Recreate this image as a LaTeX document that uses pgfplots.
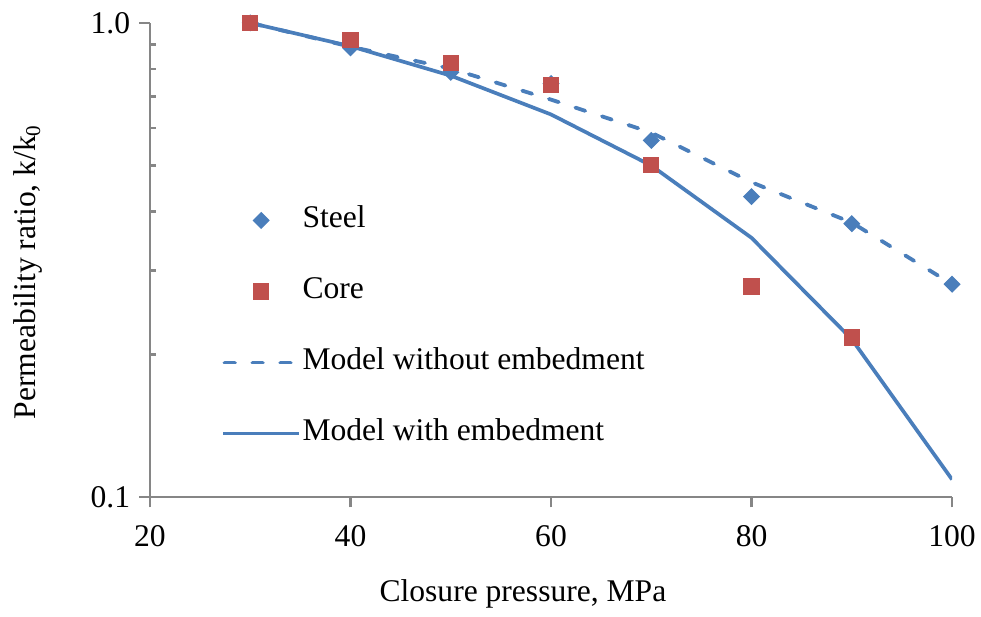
\documentclass[border=0pt]{standalone}
\usepackage{fontspec}
\setmainfont{Liberation Serif}
\usepackage{pgfplots}
\pgfplotsset{compat=1.18}
\definecolor{eblue}{RGB}{74,126,187}
\definecolor{ered}{RGB}{192,80,77}
\definecolor{agray}{RGB}{134,134,134}
\begin{document}
\begin{tikzpicture}[font=\fontsize{12}{14.4}\selectfont]
\begin{axis}[
  scale only axis,
  width=304.8pt, height=180.1pt,
  xmin=20, xmax=100,
  ymode=log, ymin=0.1, ymax=1,
  xtick={20,40,60,80,100},
  ytick={0.1,1}, yticklabels={0.1,1.0},
  minor ytick={0.2,0.3,0.4,0.5,0.6,0.7,0.8,0.9},
  /pgf/number format/assume math mode=true,
  axis x line*=bottom, axis y line*=left,
  axis line style={agray, line width=1pt},
  every tick/.append style={agray, line width=1pt},
  tick align=outside,
  major tick length=4pt,
  minor tick length=2.3pt,
  every minor y tick/.append style={xshift=2.3pt},
  xticklabel style={yshift=-3.4pt},
  xlabel={Closure pressure, MPa},
  ylabel={Permeability ratio, k/k\textsubscript{0}},
  every axis x label/.style={at={(rel axis cs:0.465,0)}, yshift=-36.9pt, anchor=center},
  every axis y label/.style={at={(rel axis cs:0,0.475)}, xshift=-46.4pt, rotate=90, anchor=center},
  legend style={at={(rel axis cs:0.088,0.619)}, anchor=north west, draw=none, fill=none,
    row sep=14.5pt, inner sep=0pt,
    nodes={inner sep=0.5pt, text height=8.5pt, text depth=3pt}},
  legend cell align=left,
  legend image code/.code={\draw[mark repeat=2,mark phase=2] plot coordinates {(0pt,0pt) (14.5pt,0pt) (29pt,0pt)};},
]
\coordinate (sw) at (rel axis cs:0,0);
\coordinate (ne) at (rel axis cs:1,1);
\addplot[only marks, mark=square*, mark size=2.1pt, mark options={rotate=45}, color=eblue] coordinates {
 (30,1.0) (40,0.886) (50,0.787) (60,0.745) (70,0.565) (80,0.430) (90,0.377) (100,0.281)};
\addlegendentry{Steel}
\addplot[only marks, mark=square*, mark size=2.9pt, color=ered] coordinates {
 (30,1.0) (40,0.921) (50,0.823) (60,0.739) (70,0.501) (80,0.278) (90,0.217)};
\addlegendentry{Core}
\addplot[eblue, line width=1.45pt, line cap=round, dash pattern=on 3.9pt off 6.7pt, dash phase=-0.6pt, no marks] coordinates {
 (30,1.0) (40,0.891) (50,0.801) (60,0.689) (70,0.587) (80,0.461) (90,0.379) (100,0.281)};
\addlegendentry{Model without embedment}
\addplot[eblue, line width=1.4pt, no marks] coordinates {
 (30,1.0) (40,0.893) (50,0.774) (60,0.641) (70,0.500) (80,0.352) (90,0.215) (100,0.1088)};
\addlegendentry{Model with embedment}
\end{axis}
\pgfresetboundingbox
\path ([shift={(-57pt,-45.6pt)}]sw) rectangle ([shift={(11pt,8.7pt)}]ne);
\end{tikzpicture}
\end{document}
